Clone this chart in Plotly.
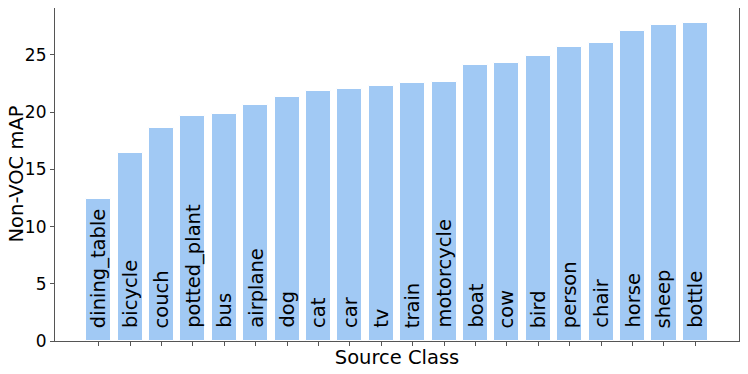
import plotly.graph_objects as go

classes = ["dining_table", "bicycle", "couch", "potted_plant", "bus", "airplane",
           "dog", "cat", "car", "tv", "train", "motorcycle", "boat", "cow",
           "bird", "person", "chair", "horse", "sheep", "bottle"]
map_values = [12.45, 16.45, 18.6, 19.65, 19.85, 20.65, 21.3, 21.85, 22.0, 22.25,
              22.55, 22.6, 24.15, 24.3, 24.9, 25.65, 26.05, 27.1, 27.6, 27.75]

positions = list(range(len(classes)))

fig = go.Figure()
fig.add_trace(go.Bar(
    x=positions, y=map_values, width=0.8,
    marker=dict(color="#a1c9f4", line=dict(color="white", width=1)),
))

# class names written vertically inside each bar, a little above the base
for pos, name in zip(positions, classes):
    fig.add_annotation(
        x=pos, y=0, xref="x", yref="y", text=name, textangle=-90,
        xanchor="center", yanchor="bottom", yshift=11, showarrow=False,
        font=dict(size=19.5, color="black"),
    )

# page body adds ~8px offset, so the figure is sized to fit inside the window
fig.update_layout(
    width=740, height=366,
    margin=dict(l=47, r=9, t=0, b=33),
    plot_bgcolor="white", paper_bgcolor="white",
    font=dict(family="DejaVu Sans", size=17, color="black"),
    showlegend=False,
    bargap=0,
)
fig.update_xaxes(
    range=[-1.39, 20.39], tickvals=positions, ticktext=[""] * len(positions),
    ticks="outside", ticklen=4, tickcolor="#555555",
    showline=True, linecolor="#555555", linewidth=1.2, mirror=True,
    showgrid=False, zeroline=False, automargin=False,
    title=dict(text="Source Class", font=dict(size=19.5), standoff=1),
)
fig.update_yaxes(
    range=[0, 29.1], tickvals=[0, 5, 10, 15, 20, 25],
    ticks="outside", ticklen=4, tickcolor="#555555",
    showline=True, linecolor="#555555", linewidth=1.2, mirror=True,
    showgrid=False, zeroline=False, automargin=False,
)
# y-axis title as an annotation so it sits clear of the tick labels
fig.add_annotation(
    text="Non-VOC mAP", xref="paper", yref="paper", x=0, y=0.5,
    xanchor="center", yanchor="middle", xshift=-39, textangle=-90,
    showarrow=False, font=dict(size=19.5),
)

fig.write_html("out.html")
